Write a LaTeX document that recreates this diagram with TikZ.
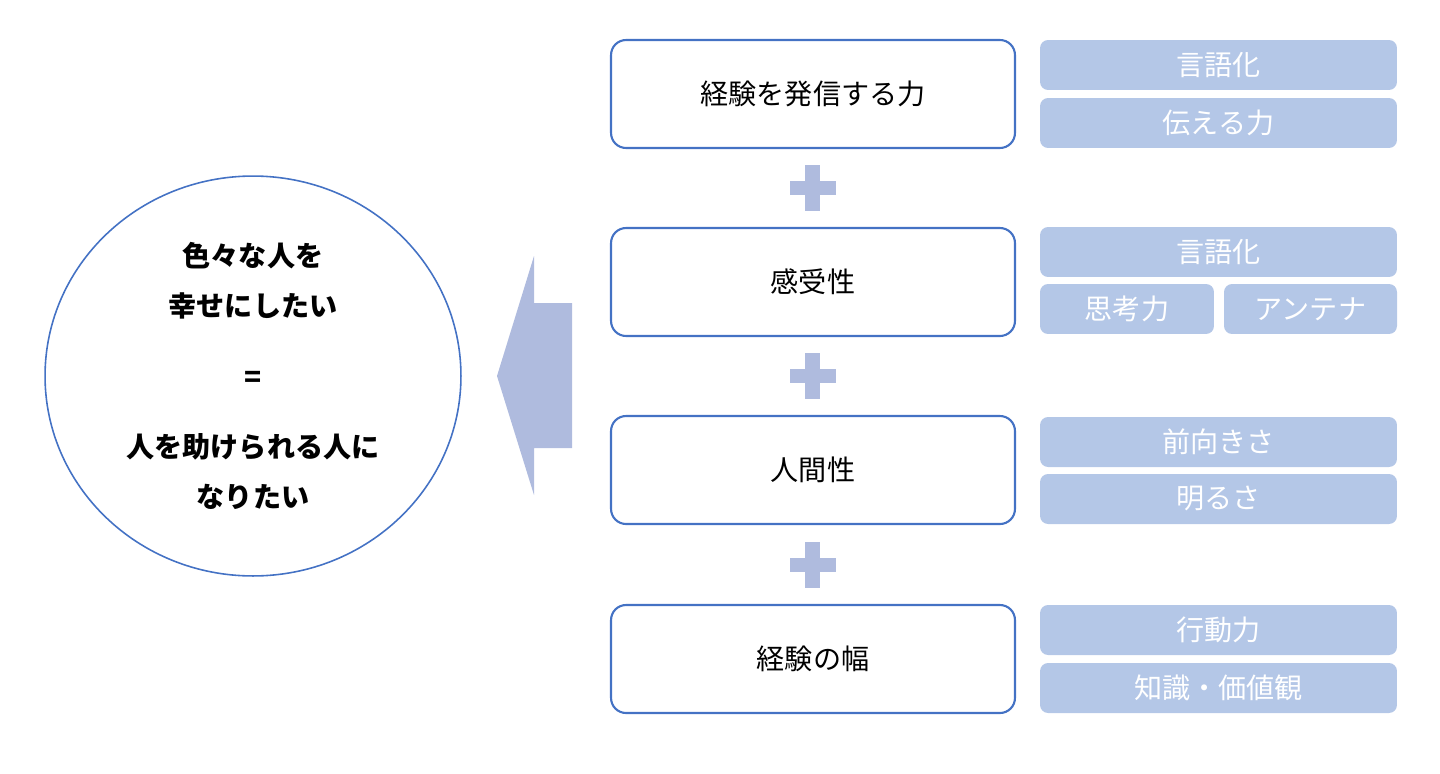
\documentclass[tikz,border=0pt]{standalone}
\usepackage{fontspec}
\setmainfont{Noto Sans CJK JP}
\usetikzlibrary{shapes.geometric}
\definecolor{boxblue}{HTML}{4472C4}
\definecolor{tagblue}{HTML}{B4C7E7}
\definecolor{plusblue}{HTML}{AFBBDE}
\begin{document}
\begin{tikzpicture}[
  x=0.02cm, y=-0.02cm,
  box/.style={draw=boxblue, line width=1.2pt, rounded corners=0.3cm,
    minimum width=8.08cm, minimum height=2.16cm, font=\fontsize{16}{19}\selectfont},
  tag/.style={fill=tagblue, rounded corners=0.16cm, minimum height=1.0cm,
    inner sep=0pt, text=white, font=\fontsize{16}{19}\selectfont},
  plus/.style={fill=plusblue},
]
\useasboundingbox (0,0) rectangle (1440,774);

\node [draw=boxblue, line width=0.9pt, ellipse, inner sep=0pt,
  minimum width=8.32cm, minimum height=8cm, align=center,
  font=\fontsize{16}{28.5}\selectfont\bfseries] (goal) at (253,376)
  {色々な人を\\幸せにしたい\\[0.4cm]=\\[0.4cm]人を助けられる人に\\なりたい};

\fill [plusblue] (497,376) -- (534,256) -- (534,303) -- (572,303)
  -- (572,448) -- (534,448) -- (534,495) -- cycle;

\node [box] (send) at (813,94) {経験を発信する力};
\node [box] (sense) at (813,282) {感受性};
\node [box] (human) at (813,470) {人間性};
\node [box] (range) at (813,659) {経験の幅};

\path [plus] (790,181) rectangle (836,195);
\path [plus] (805,165) rectangle (820,211);
\path [plus] (790,369) rectangle (836,383);
\path [plus] (805,353) rectangle (820,399);
\path [plus] (790,558) rectangle (836,572);
\path [plus] (805,542) rectangle (820,588);

\node [tag, minimum width=7.14cm] (verbal1) at (1218.5,65) {言語化};
\node [tag, minimum width=7.14cm] (convey) at (1218.5,123) {伝える力};
\node [tag, minimum width=7.14cm] (verbal2) at (1218.5,252) {言語化};
\node [tag, minimum width=3.48cm] (think) at (1127,309) {思考力};
\node [tag, minimum width=3.46cm] (antenna) at (1310.5,309) {アンテナ};
\node [tag, minimum width=7.14cm] (forward) at (1218.5,442) {前向きさ};
\node [tag, minimum width=7.14cm] (bright) at (1218.5,499) {明るさ};
\node [tag, minimum width=7.14cm] (action) at (1218.5,630) {行動力};
\node [tag, minimum width=7.14cm] (knowl) at (1218.5,688) {知識・価値観};

\end{tikzpicture}
\end{document}
